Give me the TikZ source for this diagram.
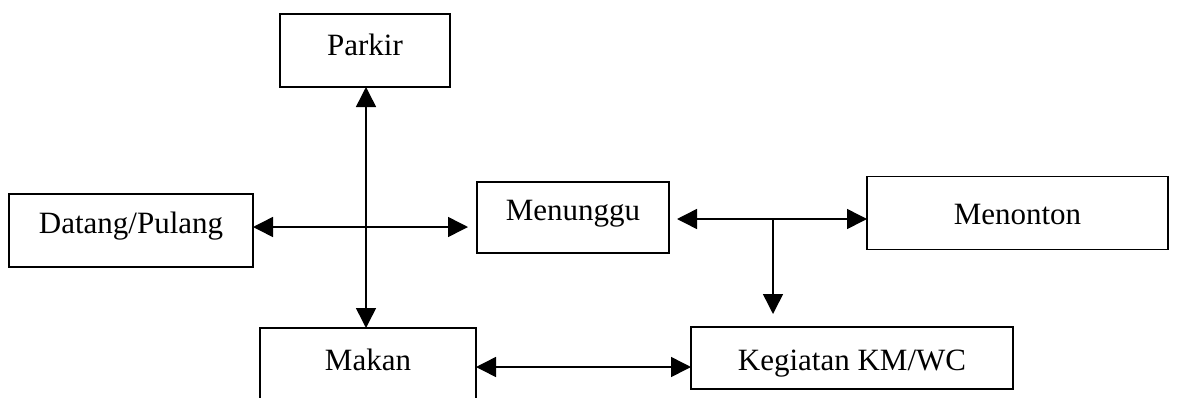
\documentclass[tikz,border=0pt]{standalone}
\usepackage{fontspec}
\setmainfont{Liberation Serif}
\usetikzlibrary{arrows.meta}
\begin{document}
\begin{tikzpicture}[x=1pt,y=-1pt,
  box/.style={draw, line width=1.8pt, rectangle, inner sep=0pt, outer sep=0pt},
  lbl/.style={font=\fontsize{31}{36}\selectfont, inner sep=0pt, anchor=base},
  link/.style={line width=1.5pt, -{Triangle[length=20pt,width=20pt]}},
  biline/.style={line width=1.5pt, {Triangle[length=20pt,width=20pt]}-{Triangle[length=20pt,width=20pt]}}]
\useasboundingbox (0,0) rectangle (1182,397);
\clip (0,0) rectangle (1182,397);

% boxes
\node[box, minimum width=170pt, minimum height=73pt] (parkir)   at (365,50.5)   {};
\node[box, minimum width=244pt, minimum height=73pt] (datang)   at (131,230.5)  {};
\node[box, minimum width=192pt, minimum height=71pt] (menunggu) at (573,217.5)  {};
\node[box, minimum width=301pt, minimum height=73pt] (menonton) at (1017.5,213) {};
\node[box, minimum width=216pt, minimum height=72pt] (makan)    at (368,364)    {};
\node[box, minimum width=322pt, minimum height=62pt] (kegiatan) at (852,358)    {};

% labels (base line below box centre)
\node[lbl] (tparkir)   at ([yshift=-4.5pt]parkir.center)   {Parkir};
\node[lbl] (tdatang)   at ([yshift=-2.5pt]datang.center)   {Datang/Pulang};
\node[lbl] (tmenunggu) at ([yshift=-3pt]menunggu.center)   {Menunggu};
\node[lbl] (tmenonton) at ([yshift=-11pt]menonton.center)  {Menonton};
\node[lbl] (tkegiatan) at ([yshift=-12pt]kegiatan.center)  {Kegiatan KM/WC};
\node[lbl] (tmakan)    at ([yshift=-6pt]makan.center)      {Makan};

% junction points of the connectors
\coordinate (jmid)   at (366,227);
\coordinate (jright) at (773,219);
\coordinate (jlow)   at (600,367);

% connectors
\draw[biline] (parkir.south -| jmid) -- (makan.north -| jmid);
\draw[biline] (datang.east |- jmid) -- ([xshift=-9pt]menunggu.west |- jmid);
\draw[biline] ([xshift=8pt]menunggu.east |- jright) -- (menonton.west |- jright);
\draw[link] (jright) -- ([yshift=13pt]kegiatan.north -| jright);
\draw[biline] (makan.east |- jlow) -- (kegiatan.west |- jlow);
\end{tikzpicture}
\end{document}
